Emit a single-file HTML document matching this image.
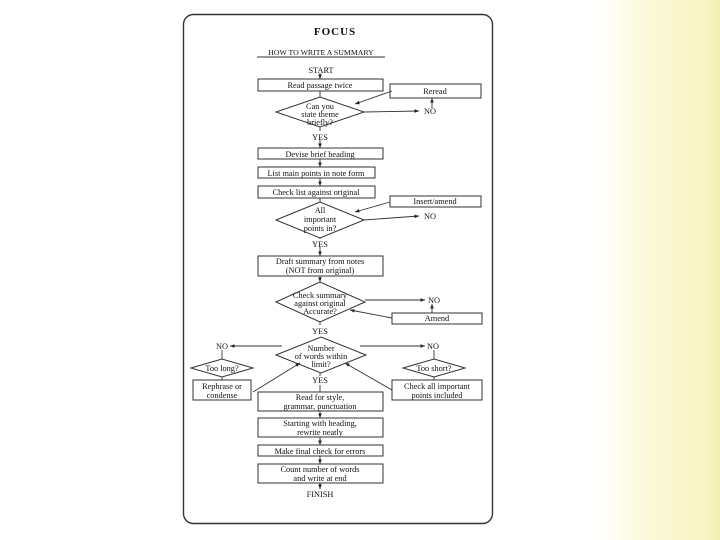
<!DOCTYPE html>
<html><head><style>
html,body{margin:0;padding:0;width:720px;height:540px;overflow:hidden;
background:linear-gradient(to right,#fff 0px,#fff 598px,#fbf9d8 650px,#f8f4c2 705px,#f4efb5 720px);}
svg{position:absolute;left:0;top:0}
text{font-family:"Liberation Serif",serif;font-size:8.3px;fill:#111;text-anchor:middle}
</style></head><body>
<svg width="720" height="540" viewBox="0 0 720 540">
<defs><marker id="a" markerWidth="6" markerHeight="6" refX="5" refY="3" orient="auto"><path d="M0,1 L5,3 L0,5z" fill="#222"/></marker></defs>
<rect x="183.5" y="14.5" width="309" height="509" rx="10" fill="#fff" stroke="#333" stroke-width="1.4"/>
<g stroke="#333" stroke-width="1" fill="#fff">
<rect x="258" y="79" width="125" height="12"/>
<rect x="390" y="84" width="91" height="14"/>
<polygon points="276,112 320,97 364,112 320,127"/>
<rect x="258" y="148" width="125" height="11"/>
<rect x="258" y="167" width="117" height="11"/>
<rect x="258" y="186" width="117" height="12"/>
<rect x="390" y="196" width="91" height="11"/>
<polygon points="276,220 320,202 364,220 320,238"/>
<rect x="258" y="256" width="125" height="20"/>
<polygon points="276,302 320,282 365,302 320,322"/>
<rect x="392" y="313" width="90" height="11"/>
<polygon points="276,355 321,337 366,355 321,373"/>
<polygon points="191,368 222,359 253,368 222,377"/>
<polygon points="403,368 434,359 465,368 434,377"/>
<rect x="193" y="380" width="58" height="20"/>
<rect x="392" y="380" width="90" height="20"/>
<rect x="258" y="392" width="125" height="19"/>
<rect x="258" y="418" width="125" height="19"/>
<rect x="258" y="445" width="125" height="11"/>
<rect x="258" y="464" width="125" height="19"/>
</g>
<g stroke="#333" stroke-width="0.9" fill="none" marker-end="url(#a)">
<line x1="320" y1="73" x2="320" y2="79"/>
<line x1="364" y1="112" x2="419" y2="111"/>
<line x1="432" y1="108" x2="432" y2="98"/>
<line x1="392" y1="91" x2="355" y2="104"/>
<line x1="320" y1="140" x2="320" y2="148"/>
<line x1="320" y1="159" x2="320" y2="167"/>
<line x1="320" y1="178" x2="320" y2="186"/>
<line x1="364" y1="220" x2="419" y2="216"/>
<line x1="390" y1="202" x2="355" y2="212"/>
<line x1="320" y1="247" x2="320" y2="256"/>
<line x1="320" y1="276" x2="320" y2="282"/>
<line x1="365" y1="300" x2="425" y2="300"/>
<line x1="432" y1="313" x2="432" y2="304"/>
<line x1="392" y1="318" x2="350" y2="310"/>
<line x1="282" y1="346" x2="230" y2="346"/>
<line x1="360" y1="346" x2="425" y2="346"/>
<line x1="253" y1="392" x2="300" y2="363"/>
<line x1="392" y1="390" x2="345" y2="363"/>
<line x1="320" y1="411" x2="320" y2="418"/>
<line x1="320" y1="437" x2="320" y2="445"/>
<line x1="320" y1="456" x2="320" y2="464"/>
<line x1="320" y1="483" x2="320" y2="489"/>
</g>
<g stroke="#333" stroke-width="0.9">
<line x1="320" y1="91" x2="320" y2="97"/>
<line x1="320" y1="127" x2="320" y2="131"/>
<line x1="320" y1="198" x2="320" y2="202"/>
<line x1="320" y1="238" x2="320" y2="239"/>
<line x1="320" y1="322" x2="320" y2="325"/>
<line x1="222" y1="350" x2="222" y2="359"/>
<line x1="434" y1="350" x2="434" y2="359"/>
<line x1="222" y1="377" x2="222" y2="380"/>
<line x1="434" y1="377" x2="434" y2="380"/>
<line x1="320" y1="373" x2="320" y2="376"/>
<line x1="320" y1="385" x2="320" y2="392"/>
<line x1="257" y1="57" x2="385" y2="57"/>
</g>
<text x="335" y="35" style="font-size:11px;font-weight:bold;letter-spacing:1px">FOCUS</text>
<text x="321" y="55" style="font-size:7.8px">HOW TO WRITE A SUMMARY</text>
<text x="321" y="73">START</text>
<text x="320" y="88">Read passage twice</text>
<text x="435" y="94">Reread</text>
<text x="320" y="109">Can you</text>
<text x="320" y="117">state theme</text>
<text x="320" y="125">briefly?</text>
<text x="430" y="114">NO</text>
<text x="320" y="140">YES</text>
<text x="320" y="157">Devise brief heading</text>
<text x="316" y="176">List main points in note form</text>
<text x="316" y="195">Check list against original</text>
<text x="435" y="204">Insert/amend</text>
<text x="320" y="213">All</text>
<text x="320" y="222">important</text>
<text x="320" y="231">points in?</text>
<text x="430" y="219">NO</text>
<text x="320" y="247">YES</text>
<text x="320" y="264">Draft summary from notes</text>
<text x="320" y="273">(NOT from original)</text>
<text x="320" y="298">Check summary</text>
<text x="320" y="306">against original</text>
<text x="320" y="314">Accurate?</text>
<text x="434" y="303">NO</text>
<text x="437" y="321">Amend</text>
<text x="320" y="334">YES</text>
<text x="321" y="351">Number</text>
<text x="321" y="359">of words within</text>
<text x="321" y="367">limit?</text>
<text x="222" y="349">NO</text>
<text x="433" y="349">NO</text>
<text x="222" y="371">Too long?</text>
<text x="434" y="371">Too short?</text>
<text x="320" y="383">YES</text>
<text x="222" y="389">Rephrase or</text>
<text x="222" y="398">condense</text>
<text x="437" y="389">Check all important</text>
<text x="437" y="398">points included</text>
<text x="320" y="400">Read for style,</text>
<text x="320" y="409">grammar, punctuation</text>
<text x="320" y="426">Starting with heading,</text>
<text x="320" y="435">rewrite neatly</text>
<text x="320" y="454">Make final check for errors</text>
<text x="320" y="472">Count number of words</text>
<text x="320" y="481">and write at end</text>
<text x="320" y="497">FINISH</text>
</svg>
</body></html>
